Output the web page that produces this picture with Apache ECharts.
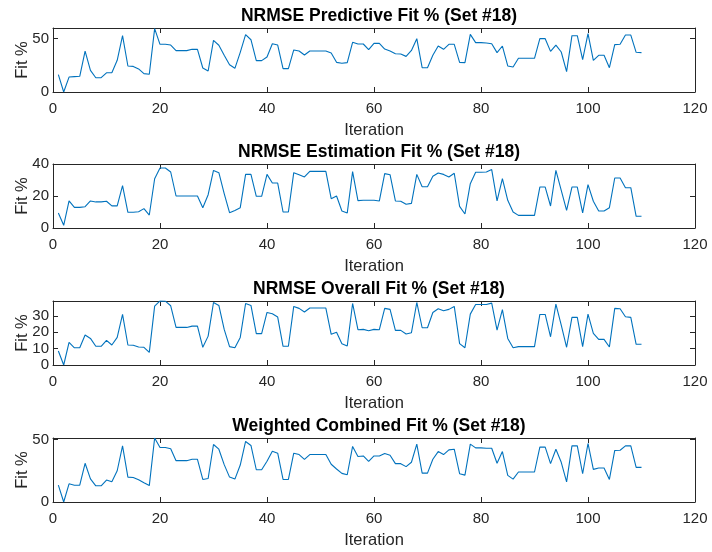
<!DOCTYPE html>
<html>
<head>
<meta charset="utf-8">
<script src="https://cdn.jsdelivr.net/npm/echarts@6/dist/echarts.min.js"></script>
<style>
  html, body { margin: 0; padding: 0; background: #fff; }
  #chart { width: 712px; height: 552px; }
</style>
</head>
<body>
<div id="chart"></div>
<script>
// Fit % per iteration for parameter set #18
const iterations = Array.from({ length: 110 }, (_, k) => k + 1);

const predictiveFit = [16.3,0,14,14.4,14.7,38.4,20.3,13.4,13.4,18,
  18,29.7,52.8,24.4,24,21.6,17.2,16.6,59.4,44.7,
  44.7,44,38.8,38.8,38.8,40,40,22.5,19.7,48.4,
  43.8,34.4,25.6,22.2,37.2,53.8,49,29.4,29.4,32.8,
  45.3,44,21.9,21.9,39.4,38.4,34.7,38.4,38.4,38.4,
  38.4,36.6,27.8,26.9,27.5,46.6,45,45,39.7,45.6,
  45.6,40.3,38.4,35.9,35.6,33.4,39,50,22.8,22.8,
  34.4,43.1,40,44.7,44.7,27.8,27.5,54,46.3,46.3,
  45.9,45.3,36.9,43.1,24.4,23.4,31.6,31.6,31.6,31.6,
  50,50,38.1,44,37.5,19.1,52.8,52.8,30.3,54.7,
  29.7,34.4,34.4,22.8,44.4,44.7,53.4,53.4,37.2,36.9];

const estimationFit = [9.4,1.7,16.9,12.9,12.9,13.3,16.9,16.3,16.3,16.7,
  13.8,13.8,26.5,9.8,9.8,10.2,12.1,8.1,30.8,37.5,
  37.5,35,20,20,20,20,20,12.7,20.8,36,
  34.6,21.5,9.6,11,12.7,33.5,33.5,19.8,19.8,33.5,
  28.1,28.1,10,10,34.6,33.3,31.9,35.4,35.4,35.4,
  35.4,18.3,20,10.6,9.4,35.2,17.1,17.3,17.3,17.3,
  16.9,34,33.3,16.9,16.7,14.8,15.4,33.5,25.8,25.8,
  32.3,34.4,33.5,31.9,34.2,13.5,8.75,27.7,34.8,34.8,
  35,36.5,16.9,30.8,17.3,10,7.9,7.9,7.9,7.9,
  25.6,25.6,13.75,36,23.5,11,25.6,25.6,9.4,27.1,
  16.7,10.6,10.6,12.7,31.25,31.25,25.2,25.2,7.3,7.3];

const overallFit = [8.5,0,13.8,10.5,10.5,18.3,16.2,11.4,11.4,15,
  12.2,16.8,30.8,12.2,12,11,10.8,7.7,35.9,39.1,
  38.9,36.1,22.9,22.9,22.9,23.7,23.7,10.8,17.6,38.1,
  36.3,21.7,11.2,10.5,16.8,37.5,36.3,19.1,19.1,32,
  31.2,29.2,11.4,11.4,35.7,34.5,32.3,34.7,34.7,34.7,
  34.7,18.7,19.9,13,11.6,37.5,21.5,21.7,20.9,21.7,
  21.5,34.5,33.9,21.1,21.1,18.9,19.7,38.1,22.7,22.7,
  32,34.3,33.1,33.9,35.7,13,10.5,31,36.9,36.9,
  36.9,37.7,21.3,33.7,16.2,10.5,11.2,11.2,11.2,11.2,
  30.8,30.8,17.2,37.1,24.3,10.8,29,29,11.2,31,
  19.3,15.6,15.6,11,34.5,34.3,29.4,29,12.6,12.6];

const weightedFit = [13.5,0,14.6,13.5,13.5,31.1,18.6,13,13,17.6,
  16.2,25.1,45.1,20,19.7,17.8,15.4,13.2,51.4,43.8,
  43.8,42.7,33.2,33.2,33.2,34.3,34.3,18.1,18.9,46.2,
  42.4,30,20,18.4,29.7,48.6,45.4,25.9,25.9,32.7,
  40.8,39.2,18.1,18.1,39.2,38.1,34.3,38.1,38.1,38.1,
  38.1,30.3,26.5,23,21.9,44.6,36.5,37,32.7,37,
  37,38.9,37.6,30.8,30.8,28.4,31.9,46.5,23.2,23.2,
  34.3,40.5,38.1,41.9,42.4,22.7,21.6,46.5,43.5,43.5,
  43.2,43.2,31.1,40.5,21.4,18.4,24.1,24.1,24.1,24.1,
  44.1,44.1,30.8,42.4,31.9,16.2,45.1,45.1,22.7,47,
  26.2,27.3,27.3,18.1,41.4,41.6,45.1,45.1,27.8,27.8];

const panelTitles = [
  'NRMSE Predictive Fit % (Set #18)',
  'NRMSE Estimation Fit % (Set #18)',
  'NRMSE Overall Fit % (Set #18)',
  'Weighted Combined Fit % (Set #18)'
];
const panelSeries = [predictiveFit, estimationFit, overallFit, weightedFit];
const yMax = [60, 40, 39, 51.4];
const yStep = [50, 20, 10, 50];
const yTickLabels = [[0, 50], [0, 20, 40], [0, 10, 20, 30], [0, 50]];
const xTickLabels = [0, 20, 40, 60, 80, 100, 120];

const panelTops = [28, 164, 301, 438];
const panelHeight = 64;
const ink = '#262626';
const fontFamily = '"Liberation Sans", Arial, Helvetica, sans-serif';

const grids = [], xAxes = [], yAxes = [], series = [], titles = [];

panelSeries.forEach((values, p) => {
  grids.push({ left: 53, right: 17, top: panelTops[p], height: panelHeight });

  titles.push({
    text: panelTitles[p],
    left: 374,
    top: panelTops[p] - 26,
    textAlign: 'center',
    textStyle: { fontFamily, fontSize: 17.5, fontWeight: 'bold', color: '#000' }
  });

  const xBase = {
    gridIndex: p, type: 'value', min: 0, max: 120, interval: 20,
    axisLine: { show: true, onZero: false, lineStyle: { color: ink, width: 1 } },
    axisTick: { show: true, inside: true, length: 5, lineStyle: { color: ink } },
    splitLine: { show: false }
  };
  xAxes.push(Object.assign({}, xBase, {
    position: 'bottom',
    name: 'Iteration', nameLocation: 'middle', nameGap: 30,
    nameMoveOverlap: false,
    nameTextStyle: { fontFamily, fontSize: 16.5, color: ink },
    axisLabel: {
      margin: 9, fontFamily, fontSize: 15, color: ink,
      formatter: v => xTickLabels.indexOf(v) >= 0 ? String(v) : ''
    }
  }));
  xAxes.push(Object.assign({}, xBase, { position: 'top', axisLabel: { show: false } }));

  const yBase = {
    gridIndex: p, type: 'value', min: 0, max: yMax[p], interval: yStep[p],
    axisLine: { show: true, onZero: false, lineStyle: { color: ink, width: 1 } },
    axisTick: { show: true, inside: true, length: 5, lineStyle: { color: ink } },
    splitLine: { show: false }
  };
  const ticks = yTickLabels[p];
  yAxes.push(Object.assign({}, yBase, {
    position: 'left',
    name: 'Fit %', nameLocation: 'middle', nameGap: 22, nameRotate: 90,
    nameMoveOverlap: false,
    nameTextStyle: { fontFamily, fontSize: 16.5, color: ink },
    axisLabel: {
      margin: 4, fontFamily, fontSize: 15, color: ink,
      formatter: v => ticks.indexOf(v) >= 0 ? String(v) : ''
    }
  }));
  yAxes.push(Object.assign({}, yBase, { position: 'right', axisLabel: { show: false } }));

  series.push({
    type: 'line',
    xAxisIndex: p * 2,
    yAxisIndex: p * 2,
    data: iterations.map((it, k) => [it, values[k]]),
    showSymbol: false,
    symbol: 'none',
    lineStyle: { color: '#0072BD', width: 1.1 },
    animation: false
  });
});

const chart = echarts.init(document.getElementById('chart'), null, { renderer: 'canvas' });
chart.setOption({
  backgroundColor: '#ffffff',
  animation: false,
  title: titles,
  grid: grids,
  xAxis: xAxes,
  yAxis: yAxes,
  series: series
});
</script>
</body>
</html>
